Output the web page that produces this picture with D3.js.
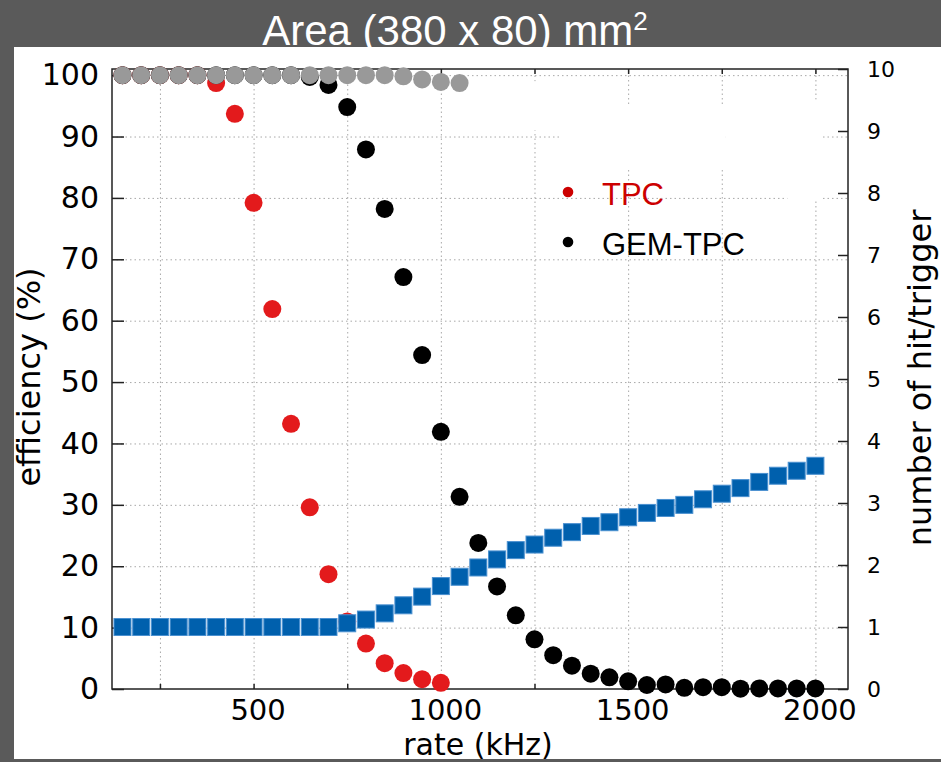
<!DOCTYPE html>
<html>
<head>
<meta charset="utf-8">
<script src="https://cdn.jsdelivr.net/npm/d3@7"></script>
<style>
  body { margin: 0; background: #5a5a5a; }
  svg { display: block; }
  .grid line { stroke: #a8a8a8; stroke-width: 1; stroke-dasharray: 1.5,3; }
  .grid path { display: none; }
  .axis path, .axis line { stroke: #222; stroke-width: 1.5; }
  .axis text { font-family: "DejaVu Sans", sans-serif; fill: #000; }
</style>
</head>
<body>
<script>

// rate (kHz) for every measured point
var rates = [150, 200, 250, 300, 350, 400, 450, 500, 550, 600, 650, 700, 750, 800, 850,
             900, 950, 1000, 1050, 1100, 1150, 1200, 1250, 1300, 1350, 1400, 1450, 1500,
             1550, 1600, 1650, 1700, 1750, 1800, 1850, 1900, 1950, 2000];

// efficiency (%) - TPC, red (150 .. 1000 kHz)
var tpcEff = [100, 100, 100, 100, 100, 98.7, 93.7, 79.2, 61.9, 43.2, 29.6, 18.7, 11.0,
              7.4, 4.2, 2.6, 1.6, 1.0];

// efficiency (%) - GEM-TPC, black (150 .. 2000 kHz)
var gemEff = [100, 100, 100, 100, 100, 100, 100, 100, 100, 100, 99.7, 98.4, 94.8, 87.9,
              78.2, 67.1, 54.4, 41.9, 31.3, 23.8, 16.7, 12.0, 8.1, 5.5, 3.8, 2.5, 1.9,
              1.25, 0.65, 0.75, 0.2, 0.3, 0.3, 0.05, 0.1, 0.1, 0.1, 0.1];

// efficiency (%) - grey points, no legend entry (150 .. 1050 kHz)
var greyEff = [100, 100, 100, 100, 100, 100, 100, 100, 100, 100, 100, 100, 100, 100, 100,
               99.8, 99.3, 98.9, 98.7];

// number of hit/trigger - blue squares, right axis (150 .. 2000 kHz)
var hits = [1.0, 1.0, 1.0, 1.0, 1.0, 1.0, 1.0, 1.0, 1.0, 1.0, 1.0, 1.0, 1.06, 1.12, 1.22,
            1.35, 1.49, 1.66, 1.81, 1.96, 2.09, 2.24, 2.33, 2.44, 2.53, 2.63, 2.69, 2.77,
            2.84, 2.92, 2.97, 3.06, 3.15, 3.24, 3.34, 3.44, 3.52, 3.6];

// tick values
var xTicks = [250, 500, 750, 1000, 1250, 1500, 1750, 2000];
var xLabels = [500, 1000, 1500, 2000];
var effTicks = [0, 10, 20, 30, 40, 50, 60, 70, 80, 90, 100];
var hitTicks = [0, 1, 2, 3, 4, 5, 6, 7, 8, 9, 10];

// white patches left over where the old legend box was (kHz, %)
var patches = [
  {x0: 1245, x1: 1330, y0: 91, y1: 99},
  {x0: 1320, x1: 1760, y0: 85, y1: 95},
  {x0: 1760, x1: 2015, y0: 83, y1: 96},
  {x0: 1925, x1: 2015, y0: 79.5, y1: 84}
];

var legend = [
  {name: "TPC", color: "#cc0000"},
  {name: "GEM-TPC", color: "#000000"}
];

var W = 941, H = 762;
var margin = {top: 69, right: 93, bottom: 73, left: 112},
    width = W - margin.left - margin.right,
    height = H - margin.top - margin.bottom;

var svg = d3.select("body").append("svg")
    .attr("width", W)
    .attr("height", H);

// grey backdrop and title
svg.append("rect")
    .attr("width", W).attr("height", H)
    .attr("fill", "#5a5a5a");

var title = svg.append("text")
    .attr("x", 455)
    .attr("y", 45)
    .attr("text-anchor", "middle")
    .style("font-family", "'Liberation Sans', Arial, sans-serif")
    .style("font-size", "42px")
    .attr("fill", "#fff");
title.append("tspan").text("Area (380 x 80) mm");
title.append("tspan")
    .attr("dy", -15)
    .style("font-size", "26px")
    .text("2");

// white sheet (cuts the bottom of the title like the original)
svg.append("rect")
    .attr("x", 14).attr("y", 47)
    .attr("width", W - 14).attr("height", 712)
    .attr("fill", "#fff");

var g = svg.append("g")
    .attr("transform", "translate(" + margin.left + "," + margin.top + ")");

// scales
var x = d3.scaleLinear().domain([122, 2087]).range([0, width]);
var yEff = d3.scaleLinear().domain([0, 101]).range([height, 0]);
var yHit = d3.scaleLinear().domain([0, 10]).range([height, 0]);

// dotted grid
g.append("g")
    .attr("class", "grid")
    .attr("transform", "translate(0," + height + ")")
    .call(d3.axisBottom(x).tickValues(xTicks).tickSize(-height).tickFormat(""));

g.append("g")
    .attr("class", "grid")
    .call(d3.axisLeft(yEff).tickValues(effTicks.slice(1)).tickSize(-width).tickFormat(""));

// patches over the grid
g.selectAll(".patch")
    .data(patches)
  .enter().append("rect")
    .attr("class", "patch")
    .attr("x", function(d) { return x(d.x0); })
    .attr("y", function(d) { return yEff(d.y1); })
    .attr("width", function(d) { return x(d.x1) - x(d.x0); })
    .attr("height", function(d) { return yEff(d.y0) - yEff(d.y1); })
    .attr("fill", "#fff");

// frame
g.append("rect")
    .attr("width", width).attr("height", height)
    .attr("fill", "none")
    .attr("stroke", "#222")
    .attr("stroke-width", 1.5);

// axes
var xAxis = g.append("g")
    .attr("class", "axis")
    .attr("transform", "translate(0," + height + ")")
    .call(d3.axisBottom(x).tickValues(xTicks).tickSize(-5).tickPadding(10)
      .tickFormat(function(d) { return xLabels.indexOf(d) >= 0 ? d : ""; }));
xAxis.selectAll("text").style("font-size", "29px").attr("dx", 4);

g.append("g")
    .attr("class", "axis")
    .call(d3.axisTop(x).tickValues(xTicks).tickSize(-5).tickFormat(""));

var yAxis = g.append("g")
    .attr("class", "axis")
    .call(d3.axisLeft(yEff).tickValues(effTicks).tickSize(-12).tickPadding(13));
yAxis.selectAll("text").style("font-size", "30px");

var y2Axis = g.append("g")
    .attr("class", "axis")
    .attr("transform", "translate(" + width + ",0)")
    .call(d3.axisRight(yHit).tickValues(hitTicks).tickSize(-10).tickPadding(19));
y2Axis.selectAll("text").style("font-size", "22px");

g.selectAll(".axis path").style("display", "none");

// axis titles
svg.append("text")
    .attr("x", 478)
    .attr("y", 754.5)
    .attr("text-anchor", "middle")
    .style("font-family", "'DejaVu Sans', sans-serif")
    .style("font-size", "30px")
    .text("rate (kHz)");

svg.append("text")
    .attr("transform", "translate(40,377) rotate(-90)")
    .attr("text-anchor", "middle")
    .style("font-family", "'DejaVu Sans', sans-serif")
    .style("font-size", "32px")
    .text("efficiency (%)");

svg.append("text")
    .attr("transform", "translate(931,378) rotate(-90)")
    .attr("text-anchor", "middle")
    .style("font-family", "'DejaVu Sans', sans-serif")
    .style("font-size", "32px")
    .text("number of hit/trigger");

// points
function dots(values, color) {
  g.append("g").selectAll("circle")
      .data(values)
    .enter().append("circle")
      .attr("cx", function(d, i) { return x(rates[i]); })
      .attr("cy", function(d) { return yEff(d); })
      .attr("r", 9)
      .attr("fill", color);
}

dots(tpcEff, "#e31a1c");
dots(gemEff, "#000000");
dots(greyEff, "#999999");

var s = 17;
g.append("g").selectAll("rect")
    .data(hits)
  .enter().append("rect")
    .attr("x", function(d, i) { return x(rates[i]) - s / 2; })
    .attr("y", function(d) { return yHit(d) - s / 2; })
    .attr("width", s)
    .attr("height", s)
    .attr("fill", "#0060ad")
    .attr("stroke", "#4a90d0")
    .attr("stroke-width", 1);

// legend
var leg = g.append("g")
    .attr("transform", "translate(" + (568 - margin.left) + "," + (192 - margin.top) + ")");

leg.selectAll("circle")
    .data(legend)
  .enter().append("circle")
    .attr("cx", 0)
    .attr("cy", function(d, i) { return i * 50; })
    .attr("r", 5.3)
    .attr("fill", function(d) { return d.color; });

leg.selectAll("text")
    .data(legend)
  .enter().append("text")
    .attr("x", 34)
    .attr("y", function(d, i) { return i * 50 + 13; })
    .style("font-family", "'Liberation Sans', Arial, sans-serif")
    .style("font-size", "31px")
    .attr("fill", function(d) { return d.color; })
    .text(function(d) { return d.name; });

</script>
</body>
</html>
